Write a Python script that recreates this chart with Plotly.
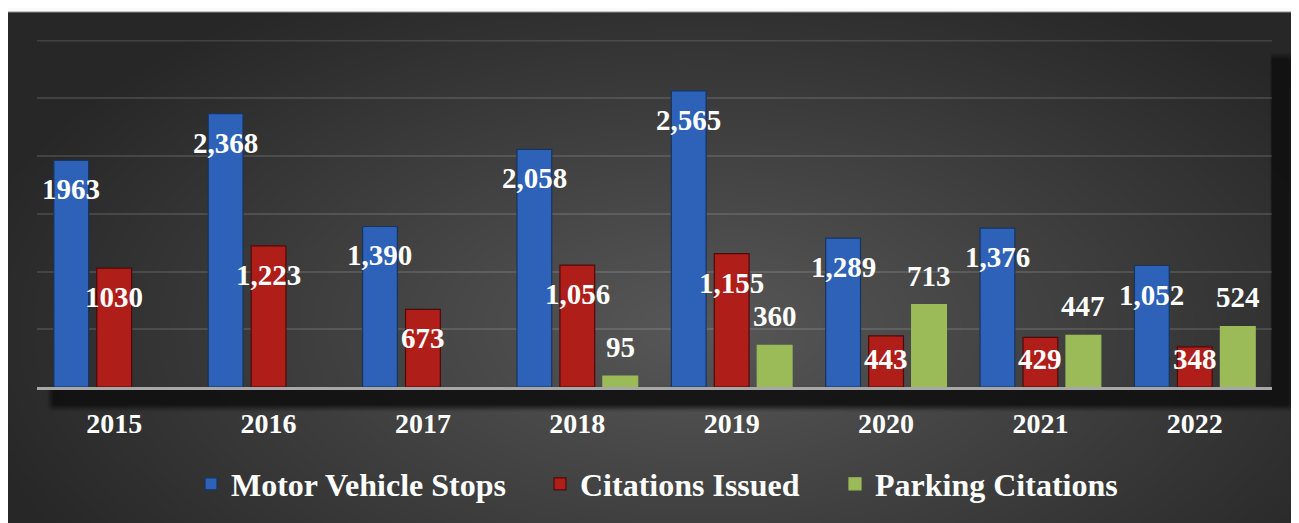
import base64
import struct
import zlib

import numpy as np
import plotly.graph_objects as go

# ---------------- data ----------------
years = ["2015", "2016", "2017", "2018", "2019", "2020", "2021", "2022"]
motor_vehicle_stops = [1963, 2368, 1390, 2058, 2565, 1289, 1376, 1052]
citations_issued = [1030, 1223, 673, 1056, 1155, 443, 429, 348]
parking_citations = [None, None, None, 95, 360, 713, 447, 524]
series_names = ["Motor Vehicle Stops", "Citations Issued", "Parking Citations"]

# ---------------- layout constants (figure pixels) ----------------
W, H = 1299, 523
ML, MR, MT, MB = 29, 35, 32, 144
PW, PH = W - ML - MR, H - MT - MB
YMAX = 3005
GRID_TOP = 3000
PPU = PH / YMAX
BARGAP, BARGROUPGAP = 0.165, 0.19
SLOT = PW / len(years) * (1 - BARGAP) / 3
FONT = "Liberation Serif"
GRID_COLOR = "rgba(255,255,255,0.12)"


# ---------------- background image (gradient panel + drop shadow) ----------------
def make_png(arr):
    h, w, _ = arr.shape
    raw = b"".join(b"\x00" + arr[r].tobytes() for r in range(h))

    def chunk(tag, data):
        c = struct.pack(">I", len(data)) + tag + data
        return c + struct.pack(">I", zlib.crc32(tag + data) & 0xFFFFFFFF)

    return (b"\x89PNG\r\n\x1a\n"
            + chunk(b"IHDR", struct.pack(">IIBBBBB", w, h, 8, 2, 0, 0, 0))
            + chunk(b"IDAT", zlib.compress(raw, 9))
            + chunk(b"IEND", b""))


iw, ih = 650, 262
X = (np.arange(iw) + 0.5) * W / iw
Y = (np.arange(ih) + 0.5) * H / ih
XX, YY = np.meshgrid(X, Y)
d = np.sqrt(((XX - 692) / 760) ** 2 + ((YY - 322) / 400) ** 2)
grad = 0x58 - (0x58 - 0x27) * np.clip(d, 0, 1)
img = grad.copy()


def soft(t, b=7.0):
    return np.clip(t / b + 0.5, 0, 1)


sx0, sx1, sy0, sy1 = 42, 1284, 48, 400
alpha = soft(XX - sx0) * soft(sx1 - XX) * soft(YY - sy0) * soft(sy1 - YY) * 0.9
img = img * (1 - alpha) + 0x10 * alpha
inside = (XX >= ML) & (XX <= W - MR) & (YY >= MT) & (YY <= H - MB)
img = np.where(inside, grad, img)
img = np.where(YY < 3, 0xFA, img)
rgb = np.repeat(np.clip(img, 0, 255).astype(np.uint8)[:, :, None], 3, axis=2)
bg_src = "data:image/png;base64," + base64.b64encode(make_png(rgb)).decode()

# ---------------- figure ----------------
fig = go.Figure()
colors = ["#2d62b8", "#b01e1a", "#9bbb59"]
line_colors = ["#17345f", "#4d0b09", "#9bbb59"]
all_values = [motor_vehicle_stops, citations_issued, parking_citations]

for i, (name, vals) in enumerate(zip(series_names, all_values)):
    lg = "legend" if i == 0 else f"legend{i + 1}"
    fig.add_trace(go.Bar(
        x=years, y=vals, name=name,
        marker=dict(color=colors[i], line=dict(color=line_colors[i], width=1.2)),
        legend=lg,
    ))

annotations = []
for i, vals in enumerate(all_values):
    for j, (yr, v) in enumerate(zip(years, vals)):
        if v is None:
            continue
        text = f"{v:d}" if yr == "2015" else f"{v:,}"
        if i == 2:
            yshift = 29
        else:
            yshift = -min(29, v * PPU - 28)
        annotations.append(dict(
            x=j, y=v, xref="x", yref="y", text=text, showarrow=False,
            xshift=(i - 1) * SLOT, yshift=yshift, yanchor="middle",
            font=dict(family=FONT, size=29, color="white", weight="bold"),
        ))

legend_left_px = [183, 532, 827]
legend_common = dict(
    orientation="h", yanchor="middle", xanchor="left",
    y=(PH - (476 - MT)) / PH, bgcolor="rgba(0,0,0,0)",
    font=dict(family=FONT, size=32, color="white", weight="bold"),
)
layout_legends = {}
for i in range(3):
    key = "legend" if i == 0 else f"legend{i + 1}"
    layout_legends[key] = dict(legend_common, x=(legend_left_px[i] - ML) / PW)

fig.update_layout(
    width=W, height=H,
    margin=dict(l=ML, r=MR, t=MT, b=MB),
    paper_bgcolor="#2c2c2c",
    plot_bgcolor="rgba(0,0,0,0)",
    barmode="group", bargap=BARGAP, bargroupgap=BARGROUPGAP,
    showlegend=True,
    annotations=annotations,
    shapes=[dict(
        type="line", xref="paper", yref="y", x0=0, x1=1, y0=GRID_TOP, y1=GRID_TOP,
        line=dict(color=GRID_COLOR, width=2), layer="below",
    )],
    images=[dict(
        source=bg_src, xref="paper", yref="paper",
        x=-ML / PW, y=1 + MT / PH, sizex=W / PW, sizey=H / PH,
        xanchor="left", yanchor="top", sizing="stretch", layer="below",
    )],
    xaxis=dict(
        type="category", range=[-0.5, len(years) - 0.5],
        showgrid=False, showline=True, linecolor="#a8a8a8",
        linewidth=2.5, ticks="", ticklabelstandoff=10,
        tickfont=dict(family=FONT, size=28, color="white", weight="bold"),
    ),
    yaxis=dict(
        range=[0, YMAX], dtick=500, showgrid=True,
        gridcolor=GRID_COLOR, gridwidth=2,
        zeroline=False, showticklabels=False, showline=False,
    ),
    **layout_legends,
)

fig.write_html("out.html")
